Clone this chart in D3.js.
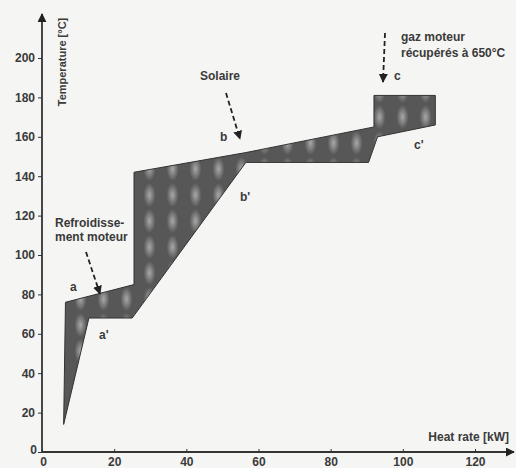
<!DOCTYPE html>
<html>
<head>
<meta charset="utf-8">
<script src="https://cdn.jsdelivr.net/npm/d3@7"></script>
<style>
  html, body { margin: 0; padding: 0; background: #f5f5f3; }
  svg { display: block; font-family: "Liberation Sans", Arial, sans-serif; }
  .lbl { fill: #3a3a3a; font-size: 12px; font-weight: bold; }
</style>
</head>
<body>
<div id="chart"></div>
<script>
// hot composite curve (upper edge), kW / °C
const hotQ = [6, 6.5, 25.5, 25.5, 56.5, 92, 92, 109, 109];
const hotT = [14, 76, 85, 142, 152, 165, 181, 181, 166];
// cold composite curve (lower edge), walked back to the start
const coldQ = [109, 93, 90.5, 56.5, 29, 25, 13, 6];
const coldT = [166, 160, 147, 147, 78, 68, 68, 14];

const xTicks = [0, 20, 40, 60, 80, 100, 120];
const yTicks = [0, 20, 40, 60, 80, 100, 120, 140, 160, 180, 200];

const W = 516, H = 468;
const x = d3.scaleLinear().domain([0, 120]).range([42, 475]);
const y = d3.scaleLinear().domain([0, 200]).range([452, 58]);

const svg = d3.select("#chart").append("svg")
  .attr("width", W).attr("height", H);

const defs = svg.append("defs");
const grad = defs.append("radialGradient").attr("id", "spot");
grad.append("stop").attr("offset", "0%").attr("stop-color", "#a8a8a8");
grad.append("stop").attr("offset", "100%").attr("stop-color", "#575757");
const pat = defs.append("pattern").attr("id", "halftone")
  .attr("patternUnits", "userSpaceOnUse").attr("width", 23).attr("height", 26);
pat.append("rect").attr("width", 23).attr("height", 26).attr("fill", "#575757");
pat.append("ellipse").attr("cx", 11.5).attr("cy", 13).attr("rx", 6).attr("ry", 12)
  .attr("fill", "url(#spot)");

const mk = defs.append("marker").attr("id", "arr")
  .attr("viewBox", "0 0 10 10").attr("refX", 9).attr("refY", 5)
  .attr("markerWidth", 5).attr("markerHeight", 5).attr("orient", "auto");
mk.append("path").attr("d", "M0,0L10,5L0,10z").attr("fill", "#222");

// shaded area between the curves
const pts = hotQ.map((q, i) => [q, hotT[i]])
  .concat(coldQ.map((q, i) => [q, coldT[i]]));
svg.append("path")
  .attr("d", d3.line().x(d => x(d[0])).y(d => y(d[1]))(pts) + "Z")
  .attr("fill", "url(#halftone)")
  .attr("stroke", "#333").attr("stroke-width", 1);

// axes
const ax = svg.append("g").attr("transform", `translate(0,${y(0)})`)
  .call(d3.axisBottom(x).tickValues(xTicks).tickSize(-3).tickPadding(5));
ax.select(".domain").remove();
const ay = svg.append("g").attr("transform", `translate(${x(0)},0)`)
  .call(d3.axisLeft(y).tickValues(yTicks).tickSize(4).tickPadding(3));
ay.select(".domain").remove();
svg.selectAll(".tick text").attr("class", "lbl").attr("fill", null)
  .style("font-family", "Liberation Sans, Arial, sans-serif");
svg.selectAll(".tick line").attr("stroke", "#333");
ay.selectAll(".tick").filter(d => d === 0).select("text").attr("dy", "0.1em").attr("x", -5);
ax.selectAll(".tick").filter(d => d === 0).select("text").attr("dx", "0.1em");

svg.append("line").attr("x1", x(0)).attr("y1", y(0)).attr("x2", 514).attr("y2", y(0))
  .attr("stroke", "#333").attr("stroke-width", 1.8).attr("marker-end", "url(#arr)");
svg.append("line").attr("x1", x(0)).attr("y1", y(0)).attr("x2", x(0)).attr("y2", 14)
  .attr("stroke", "#333").attr("stroke-width", 1.8).attr("marker-end", "url(#arr)");

svg.append("text").attr("class", "lbl").attr("text-anchor", "middle")
  .attr("transform", "translate(66,62) rotate(-90)").style("font-size", "11px")
  .text("Temperature [°C]");
svg.append("text").attr("class", "lbl").attr("x", 509).attr("y", 441)
  .attr("text-anchor", "end").text("Heat rate [kW]");

// annotations
const notes = [
  { t: "Refroidisse-", x: 55, y: 227 },
  { t: "ment moteur", x: 55, y: 241 },
  { t: "a", x: 70, y: 291 },
  { t: "a'", x: 99, y: 339 },
  { t: "Solaire", x: 200, y: 80 },
  { t: "b", x: 220, y: 141 },
  { t: "b'", x: 240, y: 201 },
  { t: "gaz moteur", x: 401, y: 41 },
  { t: "récupérés à 650°C", x: 401, y: 57 },
  { t: "c", x: 394, y: 80 },
  { t: "c'", x: 414, y: 149 }
];
svg.selectAll("text.note").data(notes).join("text")
  .attr("class", "lbl note").attr("x", d => d.x).attr("y", d => d.y).text(d => d.t);

const arrows = [
  [86, 252, 100, 294],
  [226, 93, 240, 139],
  [385, 33, 383, 82]
];
svg.selectAll("line.ann").data(arrows).join("line")
  .attr("class", "ann")
  .attr("x1", d => d[0]).attr("y1", d => d[1]).attr("x2", d => d[2]).attr("y2", d => d[3])
  .attr("stroke", "#222").attr("stroke-width", 1.8).attr("stroke-dasharray", "5,3")
  .attr("marker-end", "url(#arr)");
</script>
</body>
</html>
